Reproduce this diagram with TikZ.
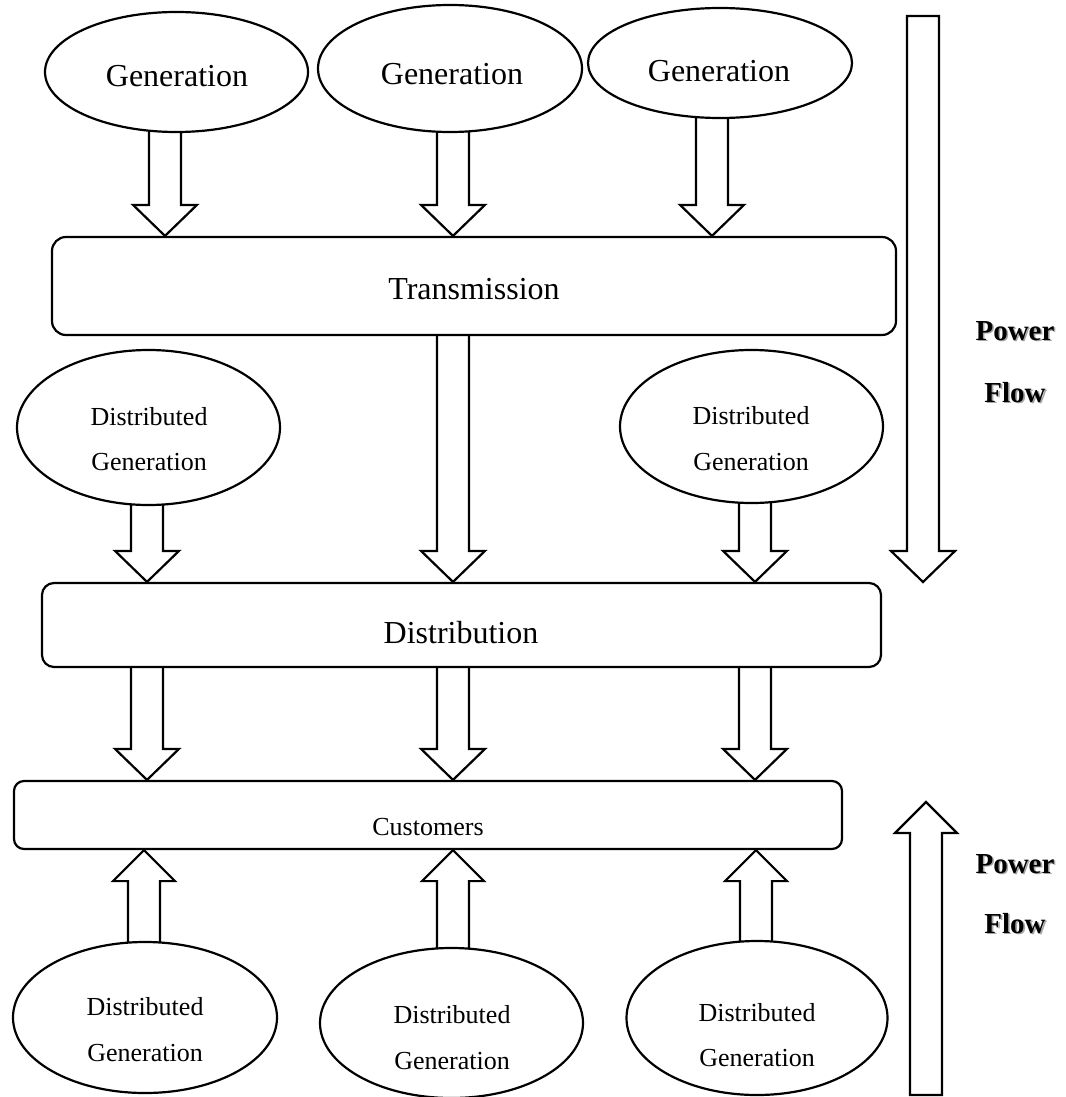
\documentclass[tikz,border=0pt]{standalone}
\usepackage{fontspec}
\setmainfont{Liberation Serif}
\usetikzlibrary{shapes.geometric}
\pgfdeclarelayer{back}
\pgfsetlayers{back,main}
% bold label with a soft drop shadow
\newcommand\shadowtext[1]{\rlap{\kern1.6pt\raisebox{-1.6pt}{\color{black!35}#1}}#1}
\begin{document}
\begin{tikzpicture}[x=1pt,y=-1pt,line width=2.2pt,line join=miter,
  oval/.style={draw,ellipse,fill=white,inner sep=0pt},
  stage/.style={draw,fill=white,rounded corners=14pt,inner sep=0pt},
  bigtxt/.style={font=\fontsize{32}{38}\selectfont,anchor=base,inner sep=0pt},
  smalltxt/.style={font=\fontsize{26}{31}\selectfont,anchor=base,inner sep=0pt},
  flowtxt/.style={font=\bfseries\fontsize{29}{34}\selectfont,anchor=base,inner sep=0pt},
  feeddown/.style={draw,fill=white,line width=2.2pt,line join=miter,to path={
    ([xshift=-16pt]\tikztostart) -- ([xshift=-16pt,yshift=31pt]\tikztotarget)
    -- ([xshift=-32pt,yshift=31pt]\tikztotarget) -- (\tikztotarget)
    -- ([xshift=32pt,yshift=31pt]\tikztotarget) -- ([xshift=16pt,yshift=31pt]\tikztotarget)
    -- ([xshift=16pt]\tikztostart) -- cycle}},
  feedup/.style={draw,fill=white,line width=2.2pt,line join=miter,to path={
    ([xshift=-16pt]\tikztostart) -- ([xshift=-16pt,yshift=-31pt]\tikztotarget)
    -- ([xshift=-31pt,yshift=-31pt]\tikztotarget) -- (\tikztotarget)
    -- ([xshift=31pt,yshift=-31pt]\tikztotarget) -- ([xshift=16pt,yshift=-31pt]\tikztotarget)
    -- ([xshift=16pt]\tikztostart) -- cycle}}
]
\useasboundingbox (0,0) rectangle (1065,1097);

% columns of the feed arrows
\coordinate (ct1) at (165,0);
\coordinate (ct2) at (453,0);
\coordinate (ct3) at (712,0);
\coordinate (cl) at (147,0);
\coordinate (cm) at (453,0);
\coordinate (cr) at (755,0);
\coordinate (cb1) at (144,0);
\coordinate (cb2) at (453,0);
\coordinate (cb3) at (756,0);

% generation, network stages and distributed generation
\node[oval,minimum width=263pt,minimum height=120pt] (g1) at (176.5,72) {};
\node[oval,minimum width=264pt,minimum height=127pt] (g2) at (450,68.5) {};
\node[oval,minimum width=264pt,minimum height=110pt] (g3) at (720,63) {};
\node[stage,minimum width=844pt,minimum height=98pt] (trans) at (474,286) {};
\node[oval,minimum width=263pt,minimum height=155pt] (d1) at (148.5,427.5) {};
\node[oval,minimum width=263pt,minimum height=153pt] (d2) at (751.5,426.5) {};
\node[stage,rounded corners=12pt,minimum width=839pt,minimum height=84pt] (dist) at (461.5,625) {};
\node[stage,rounded corners=10pt,minimum width=828pt,minimum height=68pt] (cust) at (428,815) {};
\node[oval,minimum width=264pt,minimum height=151pt] (b1) at (145,1017.5) {};
\node[oval,minimum width=263pt,minimum height=150pt] (b2) at (451.5,1023) {};
\node[oval,minimum width=261pt,minimum height=154pt] (b3) at (757,1018) {};

% labels
\node[bigtxt] (tg1) at (177,87) {Generation};
\node[bigtxt] (tg2) at (452,85) {Generation};
\node[bigtxt] (tg3) at (719,82) {Generation};
\node[bigtxt] (ttrans) at (474,299) {Transmission};
\node[smalltxt] (td1a) at (149,425) {Distributed};
\node[smalltxt] (td1b) at (149,470) {Generation};
\node[smalltxt] (td2a) at (751,424) {Distributed};
\node[smalltxt] (td2b) at (751,470) {Generation};
\node[bigtxt] (tdist) at (461,643) {Distribution};
\node[smalltxt] (tcust) at (428,835) {Customers};
\node[smalltxt] (tb1a) at (145,1015) {Distributed};
\node[smalltxt] (tb1b) at (145,1061) {Generation};
\node[smalltxt] (tb2a) at (452,1023) {Distributed};
\node[smalltxt] (tb2b) at (452,1069) {Generation};
\node[smalltxt] (tb3a) at (757,1021) {Distributed};
\node[smalltxt] (tb3b) at (757,1066) {Generation};
\node[flowtxt] (pf1a) at (1015,340) {\shadowtext{Power}};
\node[flowtxt] (pf1b) at (1015,402) {\shadowtext{Flow}};
\node[flowtxt] (pf2a) at (1015,873) {\shadowtext{Power}};
\node[flowtxt] (pf2b) at (1015,933) {\shadowtext{Flow}};

% power flow direction arrows
\coordinate (pfdtop) at (923,16);
\coordinate (pfdtip) at (923,582);
\coordinate (pfubot) at (926,1095);
\coordinate (pfutip) at (926,802);
\draw[feeddown] (pfdtop) to (pfdtip);
\draw[feedup] (pfubot) to (pfutip);

% feed arrows, drawn beneath the shapes
\begin{pgfonlayer}{back}
\draw[feeddown] (g1 -| ct1) to (trans.north -| ct1);
\draw[feeddown] (g2 -| ct2) to (trans.north -| ct2);
\draw[feeddown] (g3 -| ct3) to (trans.north -| ct3);
\draw[feeddown] (trans -| cm) to (dist.north -| cm);
\draw[feeddown] (d1 -| cl) to (dist.north -| cl);
\draw[feeddown] (d2 -| cr) to (dist.north -| cr);
\draw[feeddown] (dist -| cl) to (cust.north -| cl);
\draw[feeddown] (dist -| cm) to (cust.north -| cm);
\draw[feeddown] (dist -| cr) to (cust.north -| cr);
\draw[feedup] (b1 -| cb1) to (cust.south -| cb1);
\draw[feedup] (b2 -| cb2) to (cust.south -| cb2);
\draw[feedup] (b3 -| cb3) to (cust.south -| cb3);
\end{pgfonlayer}
\end{tikzpicture}
\end{document}
